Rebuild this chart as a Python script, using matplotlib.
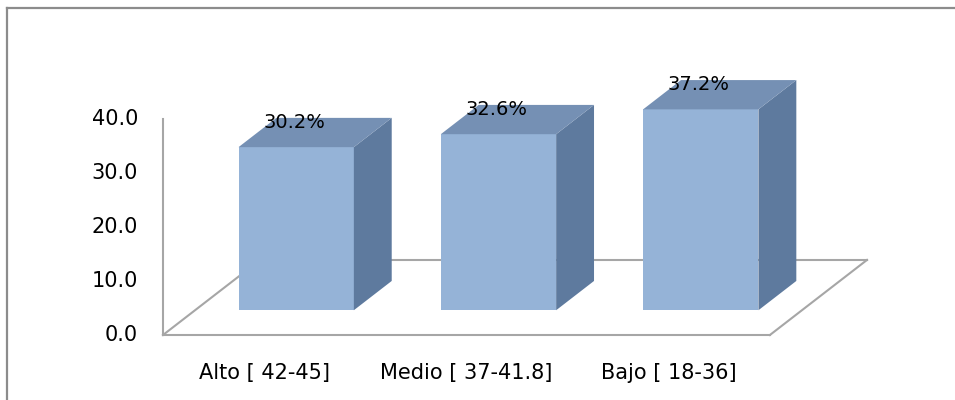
import matplotlib
matplotlib.use("Agg")
import matplotlib.pyplot as plt
from matplotlib.patches import Polygon
from matplotlib.lines import Line2D
from matplotlib.transforms import offset_copy

categories = ["Alto [ 42-45]", "Medio [ 37-41.8]", "Bajo [ 18-36]"]
values = [30.2, 32.6, 37.2]
value_labels = ["30.2%", "32.6%", "37.2%"]
yticks = [0, 10, 20, 30, 40]

# fake 3d: full floor depth as an offset in data units
DEPTH_DX, DEPTH_DY = 0.48, 13.9
BAR_FRONT, BAR_BACK = 0.33, 0.72
BAR_W = 0.57

FRONT = "#95B3D7"
TOP = "#7590B4"
SIDE = "#5E7A9E"
GRID = "#a6a6a6"


def proj(x, y, d):
    return (x + d * DEPTH_DX, y + d * DEPTH_DY)


fig = plt.figure(figsize=(9.55, 4.0), dpi=100)
ax = fig.add_axes([0, 0, 1, 1])
ax.set_axis_off()

# pixel scale of the plot area
px_x, px_y = 202.3, 5.4
x0_px, y0_px = 163, 335
ax.set_xlim(-0.5 - x0_px / px_x, -0.5 + (955 - x0_px) / px_x)
ax.set_ylim(-(400 - y0_px) / px_y, y0_px / px_y)

n = len(categories)
left, right = -0.5, n - 0.5

# floor
floor = [proj(left, 0, 0), proj(right, 0, 0), proj(right, 0, 1), proj(left, 0, 1)]
for a, b in [(0, 1), (1, 2), (2, 3), (3, 0)]:
    ax.add_line(Line2D([floor[a][0], floor[b][0]], [floor[a][1], floor[b][1]],
                       color=GRID, lw=1.5, zorder=1))

# value axis line
ax.add_line(Line2D([left, left], [0, yticks[-1]], color=GRID, lw=1.5, zorder=1))

tick_tr = offset_copy(ax.transData, fig=fig, x=-25, y=0, units="dots")
for t in yticks:
    ax.text(left, t, "{:.1f}".format(t), transform=tick_tr, ha="right",
            va="center", fontsize=15, color="black")

# bars
for i, v in enumerate(values):
    xl, xr = i - BAR_W / 2, i + BAR_W / 2
    fl = proj(xl, 0, BAR_FRONT)
    fr = proj(xr, 0, BAR_FRONT)
    tl = proj(xl, v, BAR_FRONT)
    tr = proj(xr, v, BAR_FRONT)
    br_b = proj(xr, 0, BAR_BACK)
    br_t = proj(xr, v, BAR_BACK)
    bl_t = proj(xl, v, BAR_BACK)
    ax.add_patch(Polygon([fl, fr, tr, tl], closed=True, fc=FRONT, ec="none", zorder=3))
    ax.add_patch(Polygon([fr, br_b, br_t, tr], closed=True, fc=SIDE, ec="none", zorder=3))
    ax.add_patch(Polygon([tl, tr, br_t, bl_t], closed=True, fc=TOP, ec="none", zorder=3))

    lab_tr = offset_copy(ax.transData, fig=fig, x=-2, y=25, units="dots")
    cx, cy = proj(i, v, BAR_FRONT)
    ax.text(cx, cy, value_labels[i], transform=lab_tr, ha="center", va="center",
            fontsize=14, color="black", zorder=5)

cat_tr = offset_copy(ax.transData, fig=fig, x=0, y=-38, units="dots")
for i, c in enumerate(categories):
    ax.text(i, 0, c, transform=cat_tr, ha="center", va="center", fontsize=15,
            color="black")

# chart frame (only top and left edges show)
fig.add_artist(Line2D([6.5 / 955, 1], [1 - 7.5 / 400, 1 - 7.5 / 400],
                      transform=fig.transFigure, color="#8c8c8c", lw=1.6))
fig.add_artist(Line2D([6.5 / 955, 6.5 / 955], [0, 1 - 7.5 / 400],
                      transform=fig.transFigure, color="#8c8c8c", lw=1.6))

plt.savefig("out.png", dpi=100)
plt.close("all")
